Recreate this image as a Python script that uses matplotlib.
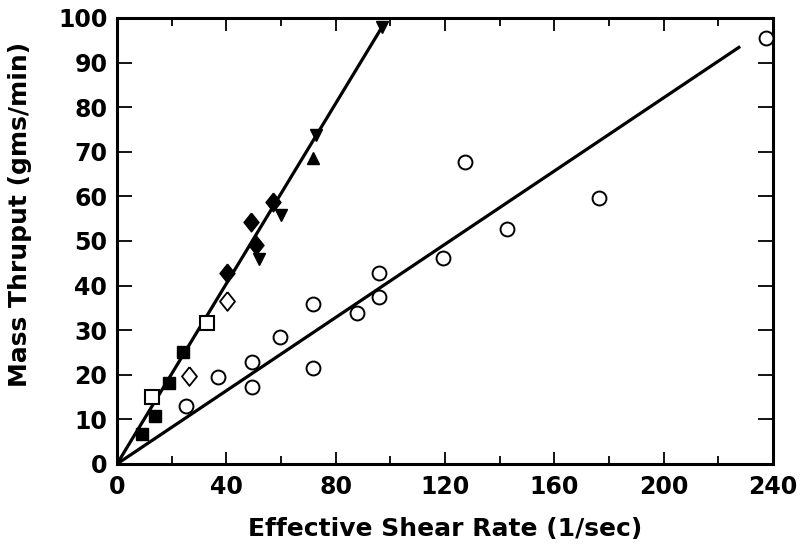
import matplotlib
matplotlib.use("Agg")
import matplotlib.pyplot as plt
import numpy as np

# steep group (left line)
sq_fill_x = [9.3, 13.9, 19.1, 24.3]
sq_fill_y = [6.7, 10.8, 18.1, 25.2]
sq_open_x = [12.7, 32.8]
sq_open_y = [15.0, 31.5]
dia_open_x = [26.5, 40.1]
dia_open_y = [19.8, 36.6]
dia_fill_x = [40.1, 48.9, 50.7, 56.9]
dia_fill_y = [42.8, 54.3, 49.1, 58.8]
tri_dn_x = [52.0, 59.9, 72.8, 97.0]
tri_dn_y = [45.9, 55.8, 73.8, 98.0]
tri_up_x = [71.6]
tri_up_y = [68.5]

# open circles (right line)
circ_x = [25.2, 37.1, 49.3, 49.3, 59.6, 71.8, 71.8, 87.7, 96.0, 96.0,
          119.4, 127.3, 142.8, 176.3, 237.3]
circ_y = [13.1, 19.4, 22.8, 17.3, 28.5, 35.9, 21.6, 33.8, 42.8, 37.5,
          46.1, 67.6, 52.6, 59.6, 95.5]

# fitted lines
line1_x = [0, 97]
line1_y = [0, 98]
line2_x = [0, 228]
line2_y = [0, 93.6]

# slightly tall diamond
diamond = [(0, 1), (0.8, 0), (0, -1), (-0.8, 0), (0, 1)]

fig = plt.figure(figsize=(8.04, 5.53), dpi=100)
ax = fig.add_axes([0.1455, 0.161, 0.8159, 0.8065])

ax.plot(line1_x, line1_y, color="black", lw=2.3, solid_capstyle="butt", zorder=2)
ax.plot(line2_x, line2_y, color="black", lw=2.3, solid_capstyle="butt", zorder=2)

kw = dict(linestyle="none", color="black", clip_on=False, zorder=3)
ax.plot(sq_fill_x, sq_fill_y, marker="s", ms=9, **kw)
ax.plot(sq_open_x, sq_open_y, marker="s", ms=9.5, mfc="white", mew=1.5, **kw)
ax.plot(dia_open_x, dia_open_y, marker=diamond, ms=13.5, mfc="white", mew=1.3, **kw)
ax.plot(dia_fill_x, dia_fill_y, marker=diamond, ms=13.5, **kw)
ax.plot(tri_dn_x, tri_dn_y, marker="v", ms=9, **kw)
ax.plot(tri_up_x, tri_up_y, marker="^", ms=9, **kw)
ax.plot(circ_x, circ_y, marker="o", ms=10, mfc="white", mew=1.4, **kw)

ax.set_xlim(0, 240)
ax.set_ylim(0, 100)
ax.set_xticks(np.arange(0, 241, 40))
ax.set_xticks(np.arange(20, 240, 40), minor=True)
ax.set_yticks(np.arange(0, 101, 10))

ax.tick_params(axis="both", which="both", direction="in", top=True, right=True,
               width=1.3, labelsize=17)
ax.tick_params(axis="x", which="major", length=9, pad=8)
ax.tick_params(axis="x", which="minor", length=6)
ax.tick_params(axis="y", which="major", length=11, pad=7)

for lab in ax.get_xticklabels() + ax.get_yticklabels():
    lab.set_fontweight("bold")

for s in ax.spines.values():
    s.set_linewidth(2.2)

ax.set_xlabel("Effective Shear Rate (1/sec)", fontsize=18, fontweight="bold")
ax.set_ylabel("Mass Thruput (gms/min)", fontsize=18, fontweight="bold")
ax.xaxis.set_label_coords(0.5, -0.118)
ax.yaxis.set_label_coords(-0.13, 0.56)

fig.savefig("out.png", dpi=100)
